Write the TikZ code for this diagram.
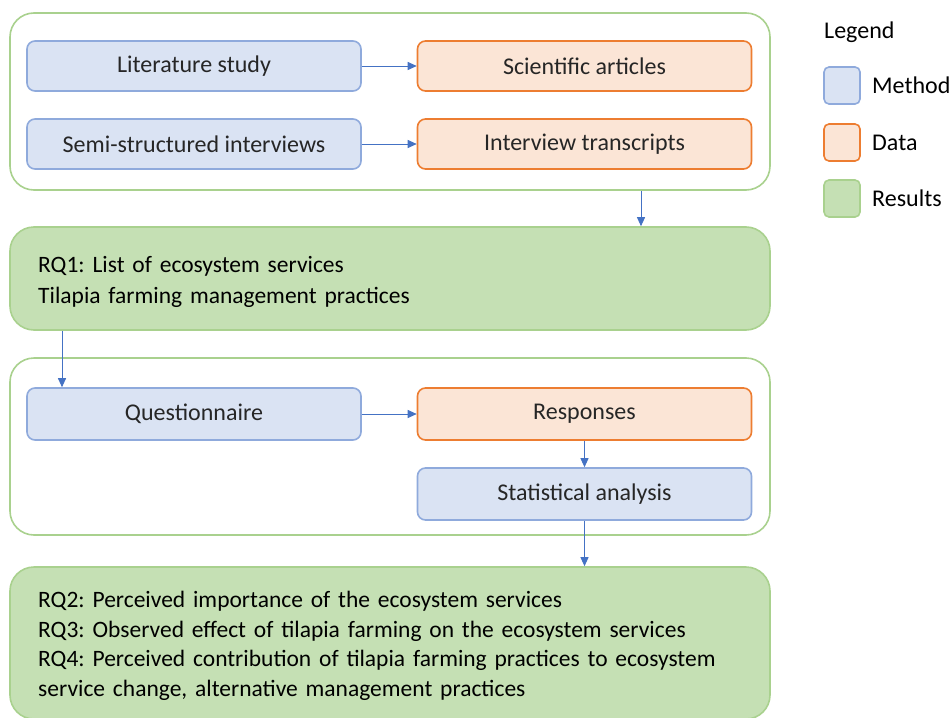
\documentclass[tikz,border=0pt]{standalone}
\usepackage{fontspec}
\setmainfont{Carlito}
\usetikzlibrary{arrows.meta}
\frenchspacing
\definecolor{methodfill}{HTML}{DAE3F3}
\definecolor{methoddraw}{HTML}{8FAADC}
\definecolor{datafill}{HTML}{FBE5D6}
\definecolor{datadraw}{HTML}{ED7D31}
\definecolor{resfill}{HTML}{C5E0B4}
\definecolor{resdraw}{HTML}{A9D18E}
\definecolor{arrowblue}{HTML}{4472C4}
\definecolor{txt}{HTML}{262626}
\tikzset{
  box/.style={rounded corners=8pt, line width=1.6pt, minimum width=334pt, minimum height=50pt,
    inner sep=0pt, font=\fontsize{24}{28}\selectfont, text=txt},
  method/.style={box, fill=methodfill, draw=methoddraw},
  data/.style={box, fill=datafill, draw=datadraw},
  group/.style={rounded corners=24pt, line width=1.6pt, draw=resdraw, fill=white,
    minimum width=760pt, inner sep=0pt},
  result/.style={rounded corners=24pt, line width=1.6pt, draw=resdraw, fill=resfill,
    minimum width=760pt, inner sep=0pt},
  restext/.style={anchor=north west, align=left, text width=704pt, inner sep=0pt,
    font=\fontsize{23.5}{29.5}\selectfont, text=black},
  flow/.style={draw=arrowblue, line width=0.9pt, -{Triangle[length=9pt,width=8pt]}},
  legkey/.style={rounded corners=5pt, line width=1.6pt, minimum width=36pt, minimum height=37pt, inner sep=0pt},
  leglabel/.style={anchor=west, inner sep=0pt, font=\fontsize{24}{28}\selectfont, text=black},
}
\begin{document}
\begin{tikzpicture}[x=1pt,y=-1pt]
\useasboundingbox (0,0) rectangle (952,717);

% first grouping frame
\node[group, minimum height=177pt] (g1) at (390,101.5) {};
\node[method] (lit) at (194,66) {Literature study};
\node[data] (art) at (584.5,66) {Scientific articles};
\node[method] (int) at (194,144) {Semi-structured interviews};
\node[data] (tra) at (584.5,144) {Interview transcripts};

% first results
\node[result, minimum height=103pt] (rq1) at (390,278.5) {};
\node[restext, font=\fontsize{23.5}{30.5}\selectfont] (rq1t) at (38,256.5)
  {RQ1: List of ecosystem services\\Tilapia farming management practices};

% second grouping frame
\node[group, minimum height=177pt] (g2) at (390,446.5) {};
\node[method, minimum height=52pt] (que) at (194,414) {Questionnaire};
\node[data, minimum height=52pt] (res) at (584.5,414) {Responses};
\node[method, minimum height=52pt] (sta) at (584.5,494) {Statistical analysis};

% final results
\node[result, minimum height=152pt] (rq2) at (390,643) {};
\node[restext] (rq2t) at (38,591)
  {RQ2: Perceived importance of the ecosystem services\\
   RQ3: Observed effect of tilapia farming on the ecosystem services\\
   RQ4: Perceived contribution of tilapia farming practices to ecosystem\\
   service change, alternative management practices};

% connectors
\draw[flow] (g1.south -| 641,0) -- (rq1.north -| 641,0);
\draw[flow] (lit.east) -- (art.west);
\draw[flow] (int.east) -- (tra.west);
\draw[flow] (rq1.south -| 62,0) -- (que.north -| 62,0);
\draw[flow] (que.east) -- (res.west);
\draw[flow] (res.south) -- (sta.north);
\draw[flow] (sta.south) -- (rq2.north -| sta.south);

% legend
\node[leglabel] (legt) at (824,32) {Legend};
\node[legkey, fill=methodfill, draw=methoddraw] (km) at (842,85.5) {};
\node[leglabel] (lm) at (872,85.5) {Method};
\node[legkey, fill=datafill, draw=datadraw] (kd) at (842,142.5) {};
\node[leglabel] (ld) at (872,142.5) {Data};
\node[legkey, fill=resfill, draw=resdraw] (kr) at (842,198.5) {};
\node[leglabel] (lr) at (872,198.5) {Results};
\end{tikzpicture}
\end{document}
